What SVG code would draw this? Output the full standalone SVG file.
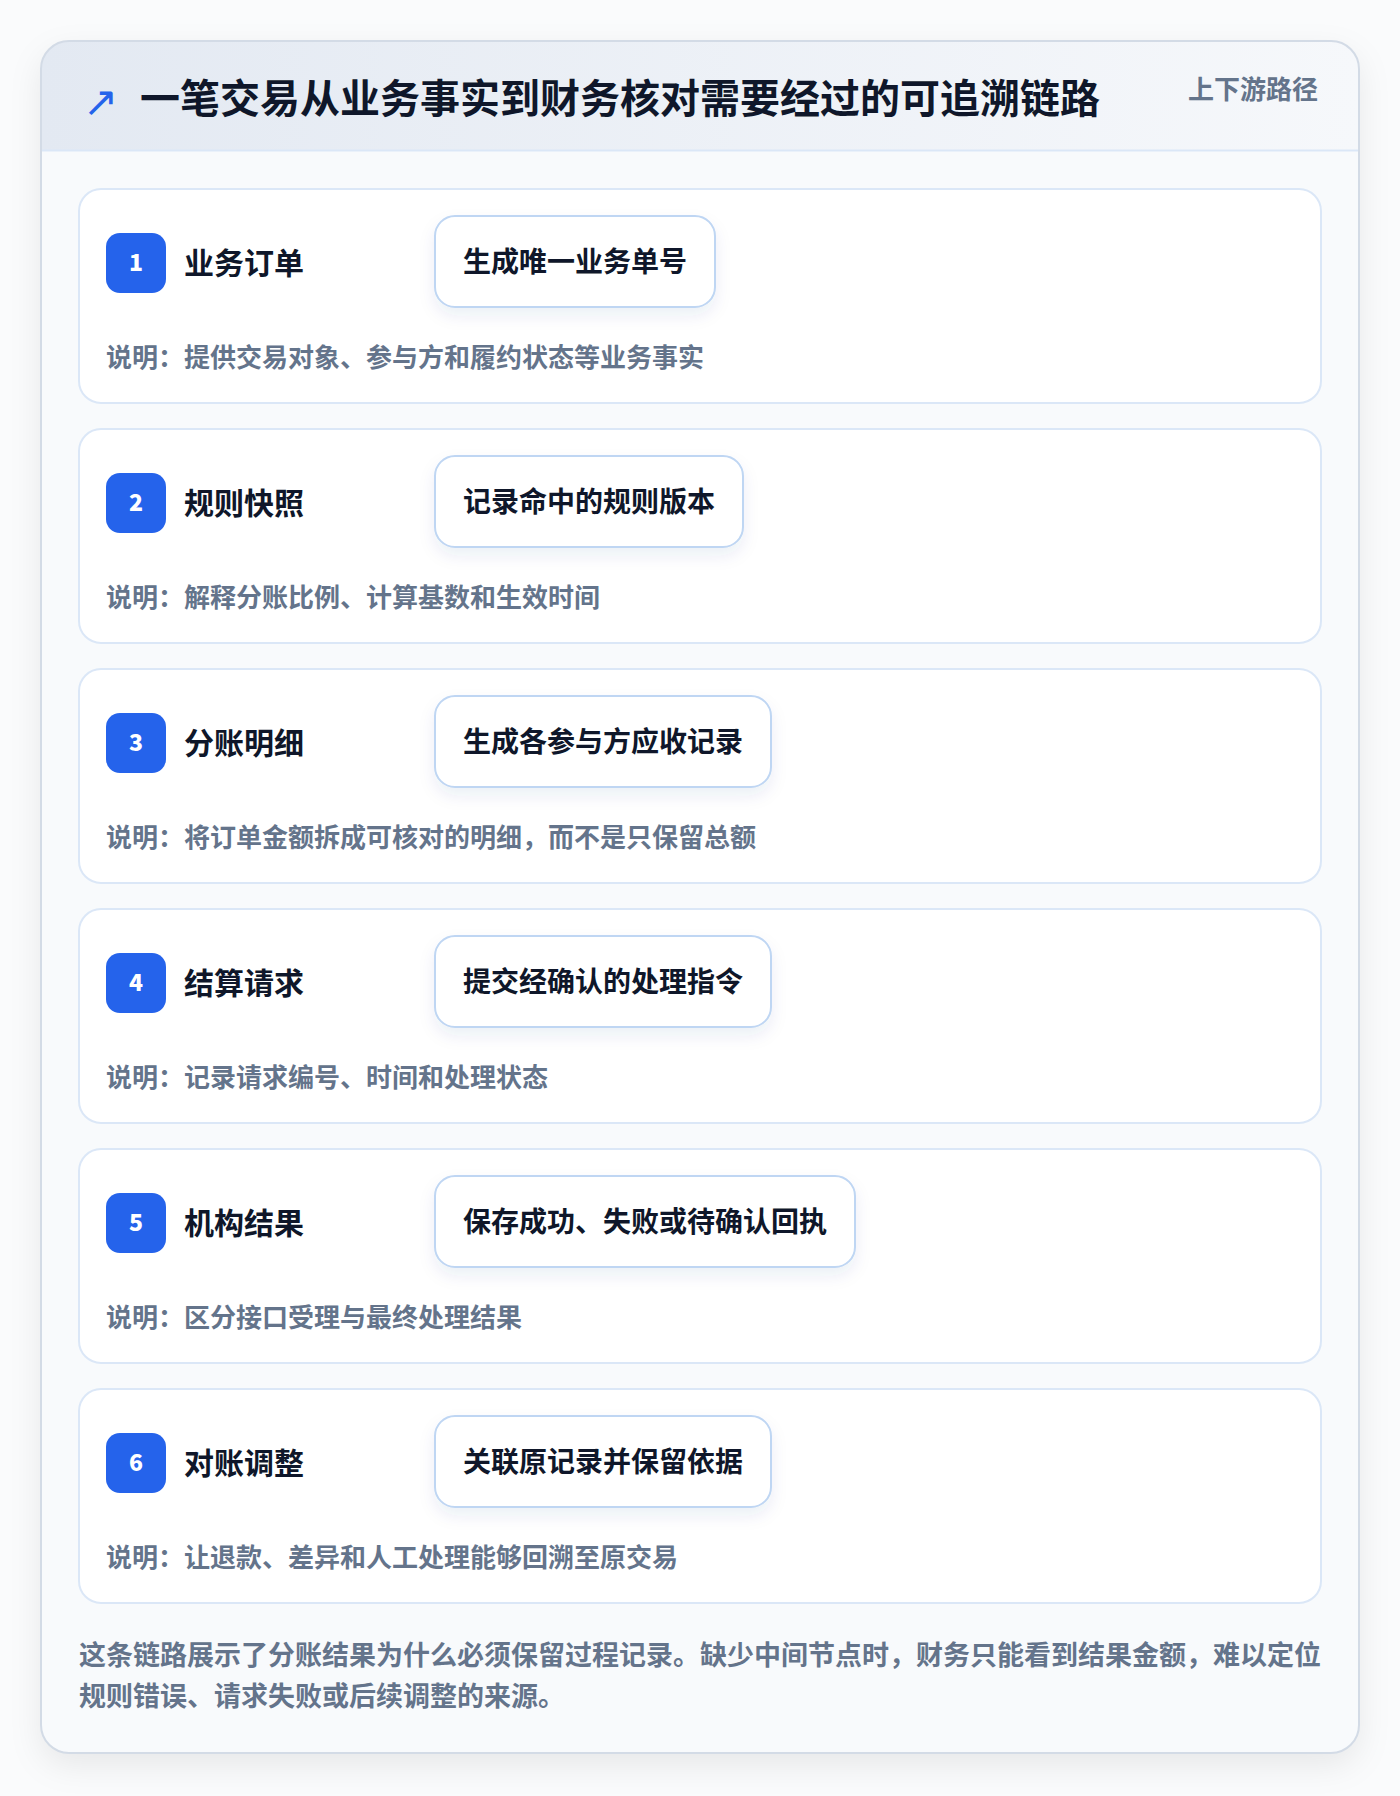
<svg xmlns="http://www.w3.org/2000/svg" width="1400" height="1796" viewBox="0 0 1400 1796">
<defs>
<linearGradient id="hdr" x1="0" y1="0" x2="1" y2="0">
<stop offset="0" stop-color="#e3e9f2"/>
<stop offset="1" stop-color="#f6f8fb"/>
</linearGradient>
<filter id="cardShadow" x="-10%" y="-10%" width="120%" height="120%">
<feDropShadow dx="0" dy="12" stdDeviation="16" flood-color="#0f172a" flood-opacity="0.08"/>
</filter>
<filter id="pillShadow" x="-20%" y="-30%" width="140%" height="170%">
<feDropShadow dx="0" dy="8" stdDeviation="8" flood-color="#1e3a8a" flood-opacity="0.08"/>
</filter>
<clipPath id="cardClip"><rect x="41" y="41" width="1318" height="1712" rx="28"/></clipPath>
</defs>
<style>
text { font-family: "Noto Sans CJK SC", "Noto Sans", "Liberation Sans", sans-serif; font-weight: 700; }
.sec { fill: #ffffff; stroke: #dbe7f7; stroke-width: 2; }
.badge { fill: #2563eb; }
.num { fill: #ffffff; font-size: 23px; text-anchor: middle; font-weight: 900; }
.lbl { fill: #0f172a; font-size: 30px; }
.pill { fill: #ffffff; stroke: #bfd6f3; stroke-width: 2; }
.ptxt { fill: #0f172a; font-size: 28px; }
.desc { fill: #64748b; font-size: 26px; }
.foot { fill: #64748b; font-size: 27px; }
</style>
<rect width="1400" height="1796" fill="#fafbfc"/>
<g id="card">
<rect x="41" y="41" width="1318" height="1712" rx="28" fill="#f8fafc" filter="url(#cardShadow)"/>
<g clip-path="url(#cardClip)">
<rect x="41" y="41" width="1318" height="110" fill="url(#hdr)"/>
<line x1="41" y1="150.5" x2="1359" y2="150.5" stroke="#dbe7f7" stroke-width="2"/>
</g>
<rect x="41" y="41" width="1318" height="1712" rx="28" fill="none" stroke="#d3dbe6" stroke-width="2"/>
</g>
<g id="header">
<text x="83" y="116" font-size="42" fill="#2563eb" style="font-family:'DejaVu Sans',sans-serif;font-weight:400">↗</text>
<text x="140" y="113" font-size="40" fill="#0f172a">一笔交易从业务事实到财务核对需要经过的可追溯链路</text>
<text x="1318" y="99" font-size="26" fill="#64748b" text-anchor="end">上下游路径</text>
</g>
<g id="node1">
<rect class="sec" x="79" y="189" width="1242" height="214" rx="22"/>
<rect class="badge" x="106" y="233" width="60" height="60" rx="14"/>
<text class="num" x="136" y="271">1</text>
<text class="lbl" x="184" y="274">业务订单</text>
<rect class="pill" x="435" y="216" width="280" height="91" rx="20" filter="url(#pillShadow)"/>
<text class="ptxt" x="463" y="272">生成唯一业务单号</text>
<text class="desc" x="106" y="367">说明：提供交易对象、参与方和履约状态等业务事实</text>
</g>
<g id="node2">
<rect class="sec" x="79" y="429" width="1242" height="214" rx="22"/>
<rect class="badge" x="106" y="473" width="60" height="60" rx="14"/>
<text class="num" x="136" y="511">2</text>
<text class="lbl" x="184" y="514">规则快照</text>
<rect class="pill" x="435" y="456" width="308" height="91" rx="20" filter="url(#pillShadow)"/>
<text class="ptxt" x="463" y="512">记录命中的规则版本</text>
<text class="desc" x="106" y="607">说明：解释分账比例、计算基数和生效时间</text>
</g>
<g id="node3">
<rect class="sec" x="79" y="669" width="1242" height="214" rx="22"/>
<rect class="badge" x="106" y="713" width="60" height="60" rx="14"/>
<text class="num" x="136" y="751">3</text>
<text class="lbl" x="184" y="754">分账明细</text>
<rect class="pill" x="435" y="696" width="336" height="91" rx="20" filter="url(#pillShadow)"/>
<text class="ptxt" x="463" y="752">生成各参与方应收记录</text>
<text class="desc" x="106" y="847">说明：将订单金额拆成可核对的明细，而不是只保留总额</text>
</g>
<g id="node4">
<rect class="sec" x="79" y="909" width="1242" height="214" rx="22"/>
<rect class="badge" x="106" y="953" width="60" height="60" rx="14"/>
<text class="num" x="136" y="991">4</text>
<text class="lbl" x="184" y="994">结算请求</text>
<rect class="pill" x="435" y="936" width="336" height="91" rx="20" filter="url(#pillShadow)"/>
<text class="ptxt" x="463" y="992">提交经确认的处理指令</text>
<text class="desc" x="106" y="1087">说明：记录请求编号、时间和处理状态</text>
</g>
<g id="node5">
<rect class="sec" x="79" y="1149" width="1242" height="214" rx="22"/>
<rect class="badge" x="106" y="1193" width="60" height="60" rx="14"/>
<text class="num" x="136" y="1231">5</text>
<text class="lbl" x="184" y="1234">机构结果</text>
<rect class="pill" x="435" y="1176" width="420" height="91" rx="20" filter="url(#pillShadow)"/>
<text class="ptxt" x="463" y="1232">保存成功、失败或待确认回执</text>
<text class="desc" x="106" y="1327">说明：区分接口受理与最终处理结果</text>
</g>
<g id="node6">
<rect class="sec" x="79" y="1389" width="1242" height="214" rx="22"/>
<rect class="badge" x="106" y="1433" width="60" height="60" rx="14"/>
<text class="num" x="136" y="1471">6</text>
<text class="lbl" x="184" y="1474">对账调整</text>
<rect class="pill" x="435" y="1416" width="336" height="91" rx="20" filter="url(#pillShadow)"/>
<text class="ptxt" x="463" y="1472">关联原记录并保留依据</text>
<text class="desc" x="106" y="1567">说明：让退款、差异和人工处理能够回溯至原交易</text>
</g>
<g id="connectors"></g>
<g id="footer">
<text class="foot" x="79" y="1665">这条链路展示了分账结果为什么必须保留过程记录。缺少中间节点时，财务只能看到结果金额，难以定位</text>
<text class="foot" x="79" y="1706">规则错误、请求失败或后续调整的来源。</text>
</g>
</svg>
